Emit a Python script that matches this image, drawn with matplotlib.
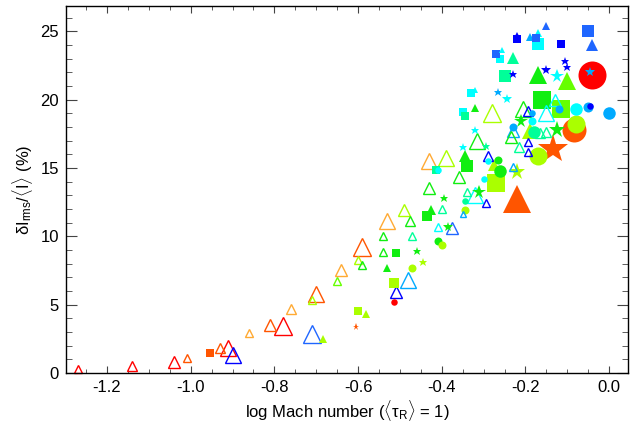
import matplotlib
matplotlib.use("Agg")
import matplotlib.pyplot as plt
from matplotlib.ticker import MultipleLocator

plt.rcParams['font.family'] = ['Liberation Sans', 'DejaVu Sans']
plt.rcParams['mathtext.fontset'] = 'custom'
plt.rcParams['mathtext.rm'] = 'Liberation Sans'
plt.rcParams['mathtext.it'] = 'Liberation Sans:italic'

# colour codes used in the data lists
palette = {'r': '#ff0000', 'or': '#ff5500', 'o': '#ffaa33', 'yg': '#aaff00',
           'lg': '#66ff00', 'g': '#11ee11', 'sg': '#00ff99', 'c': '#00ffff',
           'az': '#00aaff', 'bl': '#1f66ff', 'b': '#0000ff'}
# size class -> symbol height in pixels
size_px = {1: 6.5, 2: 8, 3: 10, 4: 12.5, 5: 15.5, 6: 18, 7: 24, 8: 28}

# open triangles
otri_x = [-1.27, -1.14, -1.04, -1.01, -0.93, -0.91, -0.90, -0.86, -0.81, -0.78,
          -0.76, -0.70, -0.71, -0.71, -0.65, -0.64, -0.59, -0.60, -0.59, -0.54,
          -0.47, -0.54, -0.48, -0.51, -0.53, -0.43, -0.39, -0.36, -0.43, -0.34,
          -0.32, -0.35, -0.49, -0.40, -0.475, -0.41, -0.375, -0.28, -0.205, -0.195,
          -0.23, -0.235, -0.215, -0.315, -0.13, -0.15, -0.195, -0.195, -0.165, -0.15,
          -0.29, -0.23, -0.295]
otri_y = [0.3, 0.5, 0.8, 1.1, 1.8, 1.8, 1.3, 2.9, 3.5, 3.45,
          4.7, 5.8, 5.35, 2.85, 6.75, 7.5, 9.2, 8.3, 7.9, 10.0,
          10.0, 8.85, 6.8, 5.9, 11.1, 15.5, 15.7, 14.35, 13.5, 13.25,
          13.05, 11.6, 11.9, 12.0, 11.15, 10.7, 10.6, 19.0, 19.3, 19.15,
          17.7, 17.3, 16.5, 16.95, 19.95, 19.05, 16.9, 16.2, 17.55, 17.6,
          15.85, 15.1, 12.45]
otri_c = ['r', 'r', 'r', 'or', 'or', 'r', 'b', 'o', 'or', 'r',
          'o', 'or', 'yg', 'bl', 'lg', 'o', 'or', 'yg', 'g', 'g',
          'sg', 'g', 'az', 'b', 'o', 'o', 'yg', 'g', 'g', 'sg',
          'c', 'az', 'yg', 'sg', 'g', 'c', 'bl', 'yg', 'g', 'b',
          'az', 'g', 'sg', 'g', 'c', 'c', 'b', 'b', 'sg', 'sg',
          'b', 'az', 'b']
otri_s = [2, 3, 4, 2, 3, 5, 5, 2, 4, 6,
          3, 5, 2, 6, 2, 4, 6, 2, 2, 2,
          2, 2, 5, 4, 5, 5, 5, 4, 4, 2,
          5, 1, 4, 2, 3, 2, 4, 6, 5, 3,
          4, 4, 3, 5, 4, 5, 2, 2, 3, 3,
          3, 2, 2]

# filled triangles
ftri_x = [-0.685, -0.58, -0.53, -0.425, -0.345, -0.32, -0.32, -0.15, -0.04, -0.22,
          -0.19, -0.17, -0.255, -0.23, -0.17, -0.10, -0.19, -0.275, -0.22]
ftri_y = [2.5, 4.35, 7.65, 11.9, 15.9, 19.4, 20.7, 25.4, 24.0, 24.7,
          24.6, 24.9, 23.65, 23.05, 21.8, 21.35, 17.7, 15.25, 12.7]
ftri_c = ['yg', 'yg', 'g', 'g', 'g', 'g', 'c', 'bl', 'bl', 'b',
          'az', 'c', 'c', 'sg', 'g', 'lg', 'yg', 'yg', 'or']
ftri_s = [2, 2, 2, 3, 4, 2, 1, 2, 4, 1,
          2, 2, 1, 4, 6, 6, 5, 4, 8]

# filled squares
sq_x = [-0.955, -0.60, -0.515, -0.51, -0.435, -0.415, -0.34, -0.35, -0.345, -0.33,
        -0.25, -0.26, -0.27, -0.22, -0.175, -0.17, -0.115, -0.05, -0.16, -0.115,
        -0.27]
sq_y = [1.45, 4.5, 6.6, 8.75, 11.45, 14.85, 15.15, 19.1, 18.8, 20.5,
        21.75, 22.95, 23.35, 24.45, 24.5, 24.05, 24.05, 25.05, 20.0, 19.3,
        13.9]
sq_c = ['or', 'yg', 'yg', 'g', 'g', 'sg', 'g', 'c', 'sg', 'c',
        'sg', 'c', 'bl', 'b', 'bl', 'c', 'b', 'bl', 'g', 'lg',
        'yg']
sq_s = [2, 2, 3, 2, 3, 2, 4, 2, 2, 2,
        4, 2, 2, 2, 2, 4, 2, 4, 6, 6,
        6]

# filled circles
circ_x = [-0.515, -0.47, -0.41, -0.40, -0.345, -0.345, -0.30, -0.29, -0.265, -0.26,
          -0.23, -0.185, -0.185, -0.18, -0.17, -0.12, -0.08, -0.05, -0.045, 0.0,
          -0.085, -0.08, -0.04, -0.41]
circ_y = [5.2, 7.65, 9.65, 9.35, 12.6, 11.95, 14.2, 15.5, 15.6, 14.8,
          18.0, 19.05, 18.4, 17.6, 15.9, 19.3, 19.3, 19.45, 19.55, 19.05,
          17.8, 18.2, 21.8, 14.85]
circ_c = ['r', 'yg', 'g', 'yg', 'sg', 'yg', 'c', 'c', 'g', 'g',
          'az', 'az', 'c', 'sg', 'yg', 'az', 'c', 'az', 'b', 'az',
          'or', 'yg', 'r', 'c']
circ_s = [1, 2, 2, 2, 1, 2, 1, 1, 2, 4,
          2, 1, 2, 4, 6, 2, 4, 3, 1, 4,
          7, 6, 8, 1]

# stars
star_x = [-0.605, -0.46, -0.445, -0.385, -0.395, -0.35, -0.32, -0.295, -0.31, -0.265,
          -0.245, -0.23, -0.15, -0.125, -0.105, -0.10, -0.045, -0.21, -0.125, -0.22,
          -0.135]
star_y = [3.4, 8.9, 8.15, 10.7, 12.8, 16.55, 17.75, 16.6, 13.25, 20.55,
          20.05, 21.9, 22.2, 21.75, 22.8, 22.4, 22.05, 18.45, 17.75, 14.7,
          16.4]
star_c = ['or', 'g', 'yg', 'g', 'g', 'c', 'c', 'sg', 'g', 'az',
          'c', 'b', 'b', 'c', 'b', 'b', 'az', 'g', 'g', 'yg',
          'or']
star_s = [1, 2, 2, 3, 2, 2, 2, 2, 4, 2,
          3, 2, 3, 4, 2, 2, 3, 4, 5, 5,
          8]

# collect every point: (x, y, colour, size class, symbol, open?)
points = []
for xs, ys, cs, ss, mk, hollow, scale in [
        (otri_x, otri_y, otri_c, otri_s, '^', True, 1.0),
        (ftri_x, ftri_y, ftri_c, ftri_s, '^', False, 1.0),
        (sq_x, sq_y, sq_c, sq_s, 's', False, 1.0),
        (circ_x, circ_y, circ_c, circ_s, 'o', False, 1.0),
        (star_x, star_y, star_c, star_s, '*', False, 1.1)]:
    for x, y, c, s in zip(xs, ys, cs, ss):
        points.append((x, y, c, s, mk, hollow, scale))

# big symbols first so small ones stay visible
points.sort(key=lambda p: -p[3])

fig = plt.figure(figsize=(6.32, 4.30), dpi=100)
ax = fig.add_axes([0.1044, 0.1326, 0.8893, 0.8535])

for x, y, c, s, mk, hollow, scale in points:
    ms = size_px[s] * 0.72 * scale
    if hollow:
        ax.plot(x, y, marker=mk, ms=ms, mfc='none', mec=palette[c], mew=1.0,
                ls='none', clip_on=False)
    else:
        ax.plot(x, y, marker=mk, ms=ms, mfc=palette[c], mew=0,
                ls='none', clip_on=False)

ax.set_xlim(-1.298, 0.045)
ax.set_ylim(0, 26.85)
ax.xaxis.set_minor_locator(MultipleLocator(0.05))
ax.yaxis.set_major_locator(MultipleLocator(5))
ax.yaxis.set_minor_locator(MultipleLocator(1))
ax.set_xticks([-1.2, -1.0, -0.8, -0.6, -0.4, -0.2, 0.0])
ax.set_xticklabels(['-1.2', '-1.0', '-0.8', '-0.6', '-0.4', '-0.2', '0.0'])

ax.tick_params(axis='both', which='both', direction='in', top=True, right=True,
               labelsize=12, color='#444444')
ax.tick_params(axis='x', which='major', length=5.2, pad=5)
ax.tick_params(axis='x', which='minor', length=2.7)
ax.tick_params(axis='y', which='major', length=8, pad=5)
ax.tick_params(axis='y', which='minor', length=4.3)
for sp in ax.spines.values():
    sp.set_linewidth(1.0)

ax.set_xlabel(r'log Mach number ($\langle\mathrm{\tau_R}\rangle$ = 1)', fontsize=12,
              labelpad=2)
ax.set_ylabel(r'$\mathrm{\delta I_{rms}}$/$\langle$I$\rangle$ (%)', fontsize=12,
              labelpad=4)

fig.savefig('out.png', dpi=100)
